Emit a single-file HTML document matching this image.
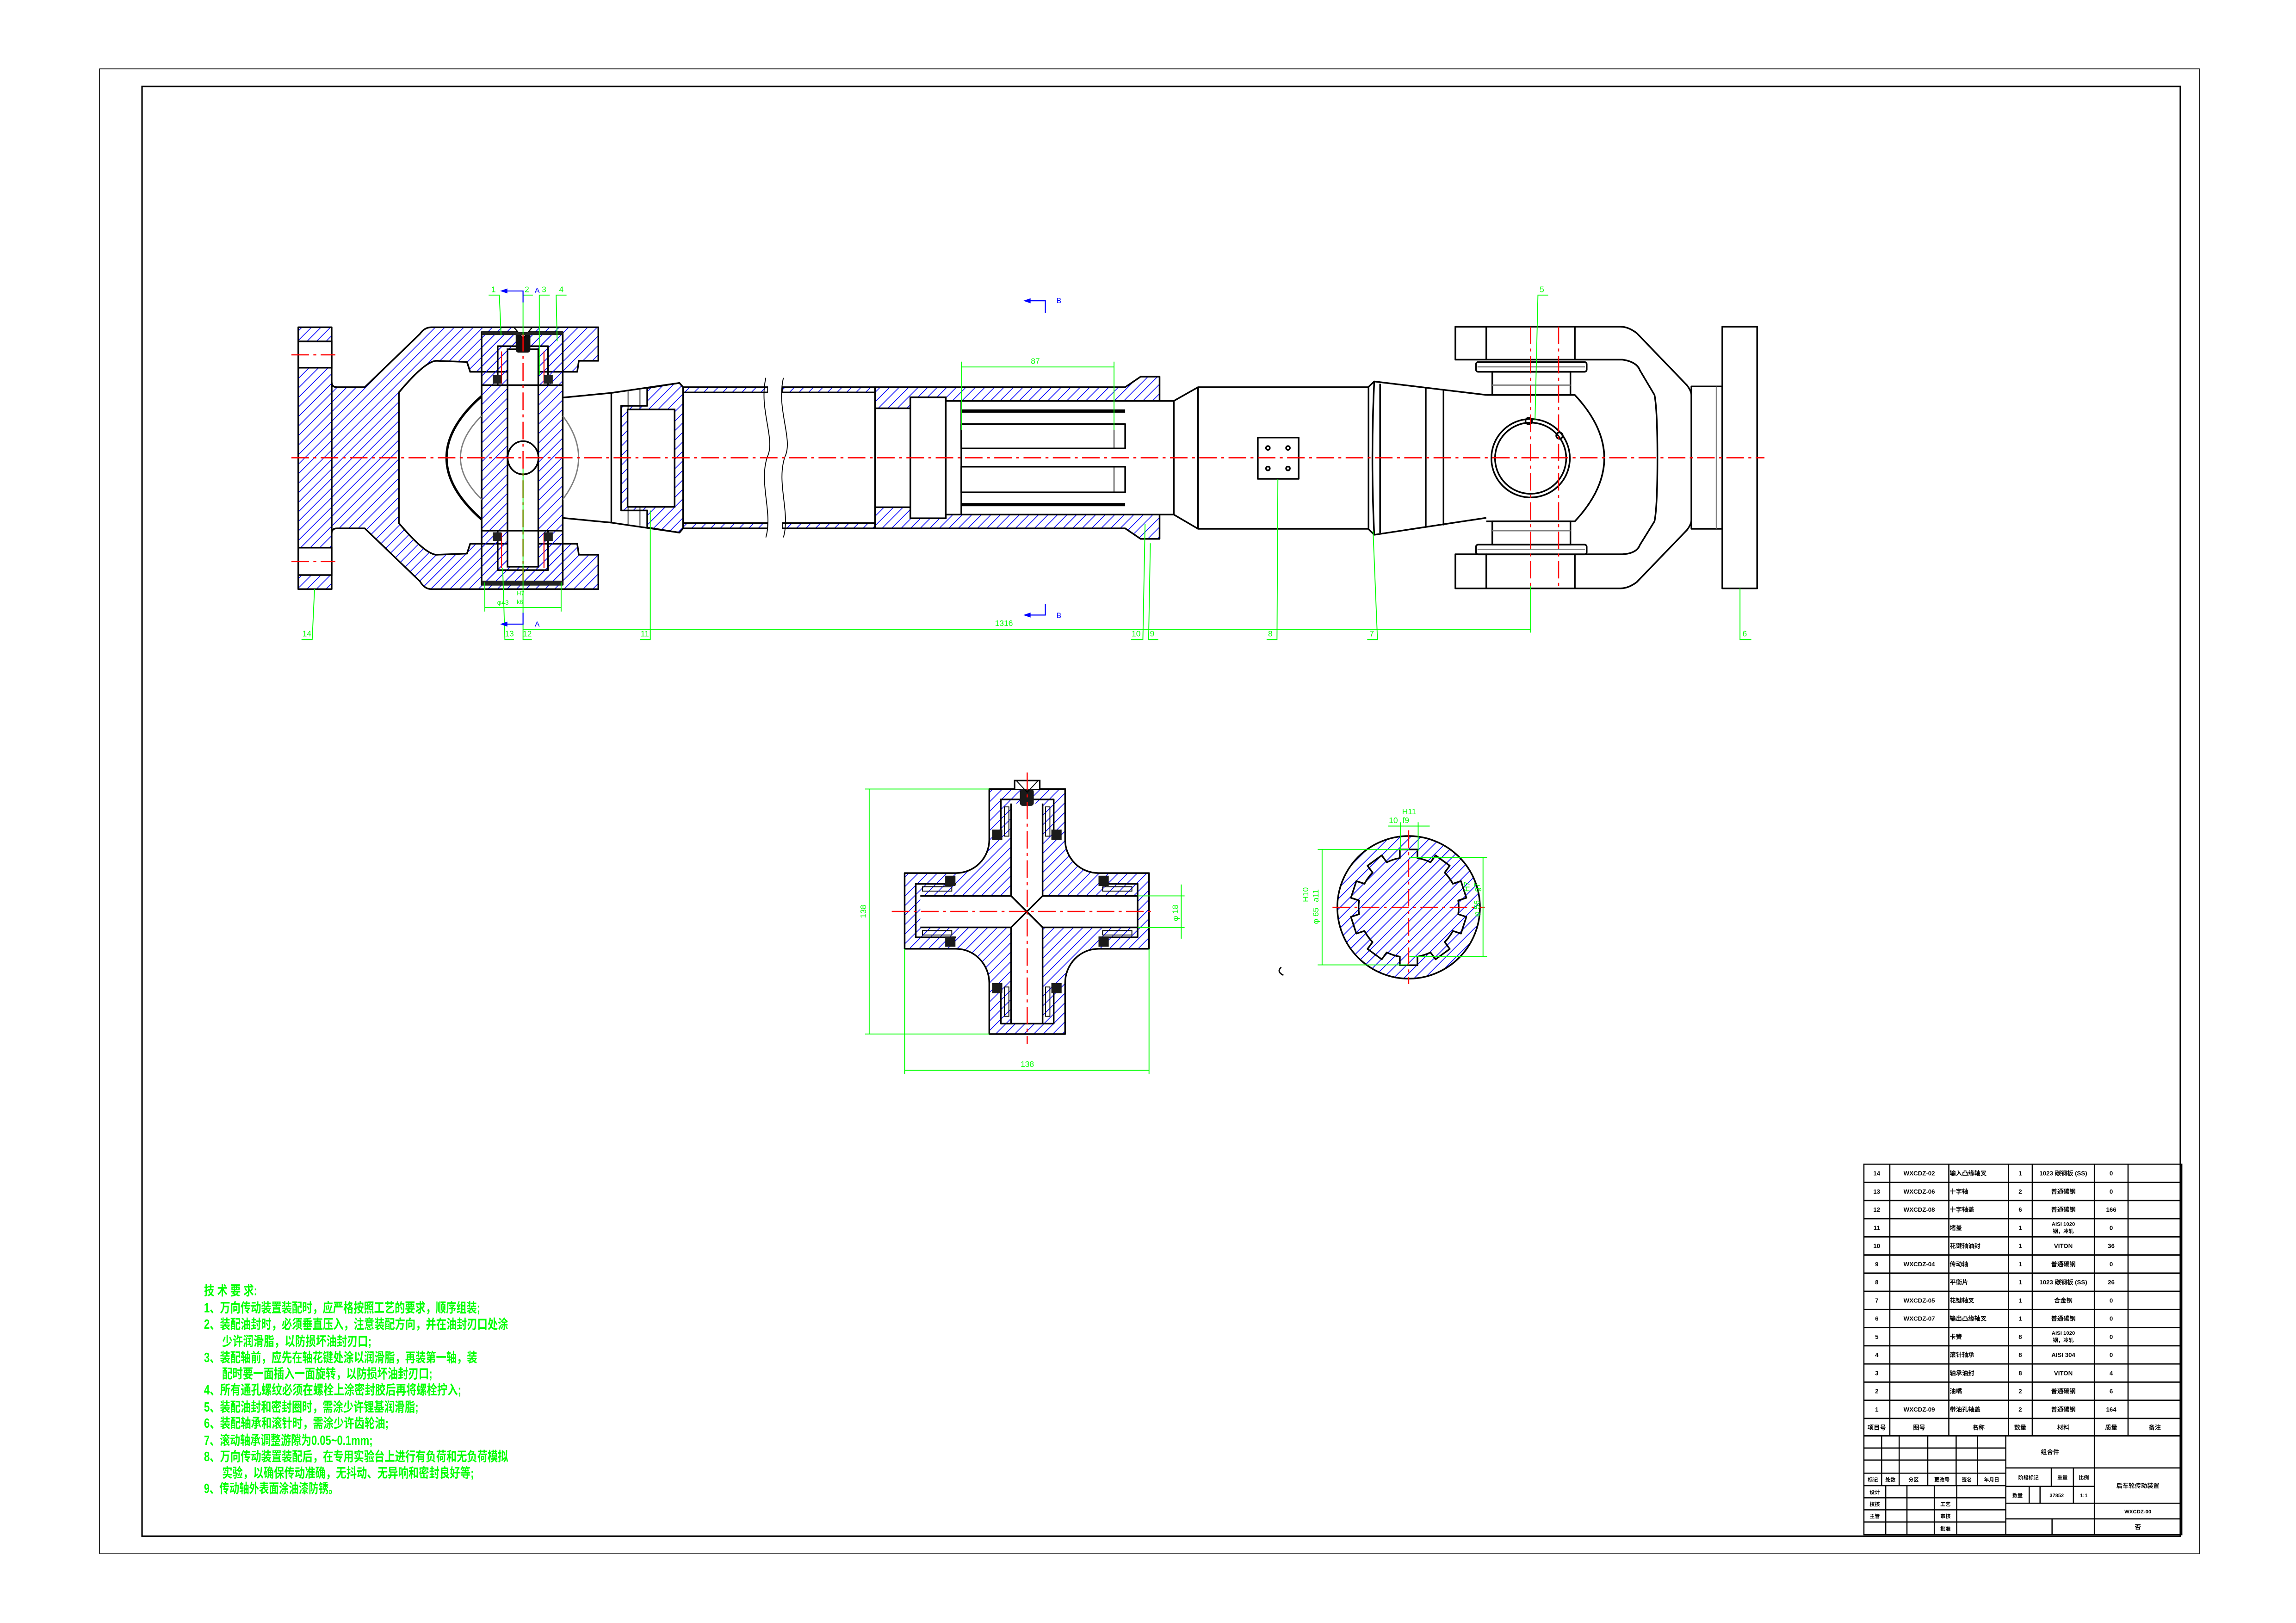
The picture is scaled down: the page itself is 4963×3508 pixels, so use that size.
<!DOCTYPE html>
<html><head><meta charset="utf-8">
<style>
html,body{margin:0;padding:0;background:#fff;}
svg{display:block;}
text{font-family:"Liberation Sans","Noto Sans CJK SC",sans-serif;}
.k{fill:none;stroke:#000;stroke-width:1.1;stroke-linejoin:round}
.kt{fill:none;stroke:#000;stroke-width:0.6}
.h{fill:url(#hatch);stroke:#000;stroke-width:1.1;stroke-linejoin:round}
.w{fill:#fff;stroke:#000;stroke-width:1.1}
.r{stroke:#f00;stroke-width:0.8;stroke-dasharray:12 3 2 3;fill:none}
.g{stroke:#0f0;stroke-width:0.6;fill:none}
.gy{stroke:#808080;stroke-width:0.9;fill:none}
.b{stroke:#00f;stroke-width:0.7;fill:none}
.gt{fill:#0f0;font-size:5.5px}
.bt{fill:#00f;font-size:5px}
.tb{stroke:#000;stroke-width:0.8;fill:none}
.tt{font-size:4.2px;font-weight:bold;fill:#000;text-anchor:middle}
.tl{font-size:4.2px;font-weight:bold;fill:#000}
.note{fill:#0f0;font-size:9px;font-weight:bold}
</style></head>
<body>
<svg width="4963" height="3508" viewBox="0 0 1568 1108.3" preserveAspectRatio="none" xmlns="http://www.w3.org/2000/svg">
<defs>
<pattern id="hatch" width="4.6" height="4.6" patternUnits="userSpaceOnUse" patternTransform="rotate(45)">
<line x1="0" y1="0" x2="0" y2="4.6" stroke="#00f" stroke-width="1.0"/>
</pattern>
<pattern id="hatch2" width="5" height="5" patternUnits="userSpaceOnUse" patternTransform="rotate(45)">
<line x1="0" y1="0" x2="0" y2="5" stroke="#00f" stroke-width="1.05"/>
</pattern>
</defs>
<rect width="1568" height="1108.3" fill="#fff"/>
<!-- borders -->
<rect x="68" y="47" width="1434" height="1014" fill="none" stroke="#000" stroke-width="0.5"/>
<rect x="97" y="59" width="1392" height="990" fill="none" stroke="#000" stroke-width="1"/>

<!-- ============ LEFT YOKE ============ -->
<rect x="203.7" y="223.5" width="22.8" height="178.8" class="h"/>
<rect x="203.7" y="233.1" width="22.8" height="18" class="w"/>
<rect x="203.7" y="374" width="22.8" height="18.7" class="w"/>
<path class="h" d="M226.5,261 Q226.5,264.4 230.2,264.4 L249.1,264.4 L286.8,228 Q290,223.5 294.5,223.5 L408.6,223.5 L408.6,246.4 L395.3,246.4 L394.2,253.9 L321.1,253.9 L318.9,247.2 L297.8,246.4 Q290,247 272.4,268 L272.4,357.2 Q290,378 297.8,378.8 L318.9,378 L321.1,371.3 L394.2,371.3 L395.3,378.8 L408.6,378.8 L408.6,402.3 L294.5,402.3 Q290,402.3 286.8,397 L249.1,360.8 L230.2,360.8 Q226.5,360.8 226.5,364.2 Z"/>
<path d="M272.4,268 Q290,247 297.8,246.4 L318.9,247.2 L321.1,253.9 L328.9,253.9 L328.9,371.3 L321.1,371.3 L318.9,378 L297.8,378.8 Q290,378 272.4,357.2 Z" fill="#fff" stroke="#000" stroke-width="1.1"/>
<rect x="328.9" y="226.8" width="55.4" height="172.5" class="h"/>
<path class="k" d="M339.9,263 L339.9,236.4 L374.3,236.4 L374.3,263 M339.9,362.4 L339.9,389.3 L374.3,389.3 L374.3,362.4"/>
<rect x="346.6" y="238.5" width="21" height="148.5" fill="#fff" stroke="#000" stroke-width="1.1"/>
<line x1="328.9" y1="263" x2="384.3" y2="263" class="k"/>
<line x1="328.9" y1="362.4" x2="384.3" y2="362.4" class="k"/>
<line x1="342.5" y1="240" x2="342.5" y2="262" stroke="#f00" stroke-width="0.7"/>
<line x1="371.5" y1="240" x2="371.5" y2="262" stroke="#f00" stroke-width="0.7"/>
<line x1="342.5" y1="364" x2="342.5" y2="388" stroke="#f00" stroke-width="0.7"/>
<line x1="371.5" y1="364" x2="371.5" y2="388" stroke="#f00" stroke-width="0.7"/>
<rect x="336.5" y="256" width="6" height="6" fill="#222"/>
<rect x="371.5" y="256" width="6" height="6" fill="#222"/>
<rect x="336.5" y="363.5" width="6" height="6" fill="#222"/>
<rect x="371.5" y="363.5" width="6" height="6" fill="#222"/>
<rect x="352.2" y="226.8" width="10" height="14" rx="2" fill="#111"/>
<path d="M351,223.5 L363.5,223.5 L357.2,231 Z" fill="#fff" stroke="#000" stroke-width="0.8"/>
<rect x="328.9" y="226.8" width="55.4" height="2" fill="#222"/>
<rect x="328.9" y="396.5" width="55.4" height="3" fill="#222"/>
<ellipse cx="357.2" cy="312.6" rx="10.5" ry="11.3" fill="#fff" stroke="#000" stroke-width="1.1"/>
<path d="M328.9,270.5 Q281,312.6 328.9,354.7" fill="none" stroke="#000" stroke-width="1.6"/>
<path d="M328.9,284 Q300,312.6 328.9,341" class="gy"/>
<path d="M384.3,284 Q406,312.6 384.3,341" class="gy"/>
<path class="k" d="M384.3,271.5 L417.5,268.3 L464,261.5 L466.5,264.4 M384.3,353.7 L417.5,356.9 L464,363.7 L466.5,360.8"/>
<line x1="417.5" y1="268.3" x2="417.5" y2="356.9" class="k"/>
<line x1="429" y1="267" x2="429" y2="358" class="gy"/>
<line x1="437" y1="266" x2="437" y2="359" class="gy"/>
<path class="h" d="M442,265 L464,261.5 L466.5,264.4 L466.5,360.8 L464,363.7 L442,360.2 L442,348.6 L424.2,348.6 L424.2,277.1 L442,277.1 Z"/>
<rect x="428.6" y="279.6" width="32.1" height="66.5" fill="#fff" stroke="#000" stroke-width="1.1"/>
<rect x="466.5" y="264.4" width="58" height="3.6" class="h"/>
<rect x="466.5" y="357.2" width="58" height="3.6" class="h"/>
<rect x="534" y="264.4" width="63.6" height="3.6" class="h"/>
<rect x="534" y="357.2" width="63.6" height="3.6" class="h"/>
<rect x="524.5" y="258" width="9.5" height="110" fill="#fff"/>
<path class="kt" d="M523,258 C518,280 530,300 524,312 C518,330 528,350 523,367" stroke-width="0.8"/>
<path class="kt" d="M535,258 C530,280 542,300 536,312 C530,330 540,350 535,367" stroke-width="0.8"/>
<path class="h" d="M597.6,264.4 L768.4,264.4 L779,257.2 L791.9,257.2 L791.9,273.8 L645.9,273.8 L645.9,271.3 L621.7,271.3 L621.7,278.8 L597.6,278.8 Z"/>
<path class="h" d="M597.6,360.8 L768.4,360.8 L779,368 L791.9,368 L791.9,351.4 L645.9,351.4 L645.9,353.9 L621.7,353.9 L621.7,346.4 L597.6,346.4 Z"/>
<line x1="597.6" y1="264.4" x2="597.6" y2="360.8" class="k"/>
<rect x="621.7" y="271.3" width="24.2" height="82.6" class="w"/>
<rect x="645.9" y="273.8" width="155.7" height="77.6" class="w"/>
<line x1="656.5" y1="273.8" x2="656.5" y2="351.4" class="k"/>
<rect x="656.5" y="279.6" width="111.9" height="2.2" fill="#000"/>
<rect x="656.5" y="343.5" width="111.9" height="2.2" fill="#000"/>
<rect x="656.5" y="289.6" width="111.9" height="16.6" class="k"/>
<rect x="656.5" y="318.7" width="111.9" height="17.5" class="k"/>
<line x1="760.8" y1="289.6" x2="760.8" y2="306.2" class="kt"/>
<line x1="760.8" y1="318.7" x2="760.8" y2="336.2" class="kt"/>
<path class="k" d="M801.6,273.8 L818.2,264.4 L934.6,264.4 L934.6,361.1 L818.2,361.1 L801.6,351.4 Z"/>
<line x1="818.2" y1="264.4" x2="818.2" y2="361.1" class="k"/>
<rect x="859" y="298.8" width="27.9" height="28.2" class="k"/>
<circle cx="865.9" cy="305.9" r="1.3" class="k"/>
<circle cx="879.6" cy="305.9" r="1.3" class="k"/>
<circle cx="865.9" cy="319.9" r="1.3" class="k"/>
<circle cx="879.6" cy="319.9" r="1.3" class="k"/>
<path class="k" d="M934.4,264.4 L938.5,260.5 L1015,269.7 M934.4,361.1 L938.5,365.2 L1015,353.6"/>
<path class="k" d="M938.5,260.5 Q936,312.6 938.5,365.2 M942.5,262 L942.5,364"/>
<line x1="973.7" y1="265" x2="973.7" y2="360" class="k"/>
<line x1="985.8" y1="266.3" x2="985.8" y2="358.8" class="k"/>
<path class="k" d="M993.9,223.1 L1106.7,223.1 Q1112,223.1 1117.8,227.5 L1152,263 Q1155.1,267 1155.1,270 L1155.1,355 Q1155.1,358 1152,362 L1117.8,397.5 Q1112,401.8 1106.7,401.8 L993.9,401.8"/>
<path class="k" d="M1075.5,245.6 L1108,245.6 Q1117.8,247 1120,253 L1129.9,269.7 Q1131.9,280 1131.9,312.9 Q1131.9,346 1129.9,356 L1120,372 Q1117.8,378 1108,378.5 L1075.5,378.5"/>
<rect x="993.9" y="223.1" width="21.1" height="22.5" class="k"/>
<rect x="993.9" y="378.5" width="21.1" height="23.3" class="k"/>
<line x1="1015" y1="245.6" x2="1075.5" y2="245.6" class="k"/>
<line x1="1015" y1="378.5" x2="1075.5" y2="378.5" class="k"/>
<line x1="1075.5" y1="223.1" x2="1075.5" y2="245.6" class="k"/>
<line x1="1075.5" y1="378.5" x2="1075.5" y2="401.8" class="k"/>
<rect x="1008" y="247.2" width="75.6" height="6.7" rx="1.5" class="k"/>
<line x1="1009" y1="250.5" x2="1082.6" y2="250.5" class="gy"/>
<rect x="1008" y="371.9" width="75.6" height="6.7" rx="1.5" class="k"/>
<line x1="1009" y1="375.2" x2="1082.6" y2="375.2" class="gy"/>
<rect x="1019.1" y="253.9" width="53.4" height="15.8" class="k"/>
<line x1="1019.1" y1="263" x2="1072.5" y2="263" class="gy"/>
<rect x="1019.1" y="356" width="53.4" height="15.9" class="k"/>
<line x1="1019.1" y1="362.4" x2="1072.5" y2="362.4" class="gy"/>
<path class="k" d="M1015,269.7 L1075.5,269.7 Q1115.7,312.9 1075.5,356 L1015,356"/>
<circle cx="1045.3" cy="312.9" r="26.8" class="k"/>
<circle cx="1045.3" cy="312.9" r="24.3" class="k" stroke-width="0.8"/>
<circle cx="1044" cy="287.5" r="2.2" class="k" stroke-width="0.7"/>
<circle cx="1065" cy="297.5" r="2.2" class="k" stroke-width="0.7"/>
<rect x="1155.1" y="263.9" width="21.1" height="97.2" class="k"/>
<line x1="1172.2" y1="264" x2="1172.2" y2="361" class="gy"/>
<rect x="1176.2" y="223.1" width="23.8" height="178.7" class="k"/>
<line x1="199" y1="312.6" x2="1205" y2="312.6" class="r"/>
<line x1="199" y1="242.3" x2="229" y2="242.3" class="r"/>
<line x1="199" y1="383.5" x2="229" y2="383.5" class="r"/>
<line x1="357.2" y1="228" x2="357.2" y2="397" class="r"/>
<line x1="1045.3" y1="223" x2="1045.3" y2="402" class="r"/>
<line x1="1064.4" y1="223" x2="1064.4" y2="402" class="r"/>

<g class="g">
<path d="M214.8,402.3 L213.2,436.7 L205.9,436.7"/>
<path d="M343.3,387.7 L344.8,436.7 L351,436.7"/>
<path d="M357.2,320 L357.2,436.7 L363.2,436.7"/>
<path d="M444.1,348.6 L444.1,436.7 L437,436.7"/>
<path d="M782,357.8 L780.5,436.7 L772.3,436.7"/>
<path d="M785.6,371 L784.4,436.7 L791,436.7"/>
<path d="M872.7,327 L872.1,436.7 L865,436.7"/>
<path d="M937.7,362.7 L940.7,436.7 L933.7,436.7"/>
<path d="M1188.3,401.8 L1188.3,436.7 L1196,436.7"/>
<path d="M1048.3,287.1 L1050.3,201.5 L1057.3,201.5"/>
<line x1="1045.3" y1="400" x2="1045.3" y2="432"/>
<line x1="357.2" y1="430" x2="1045.3" y2="430"/>
<path d="M342.2,229 L341,201.5 L333.7,201.5"/>
<path d="M357.2,229 L357.2,201.5 L363.9,201.5"/>
<path d="M368.3,256 L368.3,201.5 L375.4,201.5"/>
<path d="M380.5,233 L379.8,201.5 L386.9,201.5"/>
<line x1="656.5" y1="247" x2="656.5" y2="293.8"/>
<line x1="760.8" y1="247" x2="760.8" y2="293.8"/>
<line x1="656.5" y1="250.6" x2="760.8" y2="250.6"/>
<line x1="331.1" y1="397.7" x2="331.1" y2="417.6"/>
<line x1="383.2" y1="397.7" x2="383.2" y2="417.6"/>
<line x1="331.1" y1="414.8" x2="383.2" y2="414.8"/>
</g>
<g class="gt">
<text x="206.5" y="434.5">14</text>
<text x="344.8" y="434.5">13</text>
<text x="357" y="434.5">12</text>
<text x="437.5" y="434.5">11</text>
<text x="679.5" y="427.5">1316</text>
<text x="772.8" y="434.5">10</text>
<text x="785.3" y="434.5">9</text>
<text x="866" y="434.5">8</text>
<text x="935.3" y="434.5">7</text>
<text x="1190" y="434.5">6</text>
<text x="1051.5" y="199.5">5</text>
<text x="335.5" y="199.5">1</text>
<text x="358.3" y="199.5">2</text>
<text x="370" y="199.5">3</text>
<text x="381.8" y="199.5">4</text>
<text x="704" y="248.5">87</text>
<text x="339.5" y="413" font-size="4.5">φ43</text>
<text x="353" y="406.5" font-size="4">H7</text>
<text x="353" y="412.5" font-size="4">k6</text>
</g>
<g class="b">
<path d="M345,198.7 L357.2,198.7 L357.2,206.5"/>
<path d="M345,426.2 L357.2,426.2 L357.2,418.4"/>
<path d="M701.5,205.4 L713.9,205.4 L713.9,213.7"/>
<path d="M701.5,420 L713.9,420 L713.9,412.3"/>
</g>
<g fill="#00f">
<path d="M341.5,198.7 L346.5,197 L346.5,200.4 Z"/>
<path d="M341.5,426.2 L346.5,424.5 L346.5,427.9 Z"/>
<path d="M698.8,205.4 L703.8,203.7 L703.8,207.1 Z"/>
<path d="M698.8,420 L703.8,418.3 L703.8,421.7 Z"/>
</g>
<g class="bt">
<text x="365.2" y="200">A</text>
<text x="365.2" y="428">A</text>
<text x="721.5" y="207">B</text>
<text x="721.5" y="422">B</text>
</g>

<!-- ============ CROSS VIEW ============ -->
<path class="h" d="M675.6,538.8 L727.4,538.8 L727.4,573.5 A22.8,22.7 0 0 0 750.2,596.2 L784.7,596.2 L784.7,647.9 L750.2,647.9 A22.8,23.4 0 0 0 727.4,671.3 L727.4,706.1 L675.6,706.1 L675.6,671.3 A22.8,23.4 0 0 0 652.8,647.9 L617.8,647.9 L617.8,596.2 L652.8,596.2 A22.8,22.7 0 0 0 675.6,573.5 Z"/>
<rect x="690.5" y="548.7" width="21.5" height="150.3" fill="#fff"/>
<rect x="628.5" y="611.8" width="148.4" height="21.5" fill="#fff"/>
<path class="k" d="M690.5,548.7 L690.5,611.8 L628.5,611.8 M712,548.7 L712,611.8 L776.9,611.8 M690.5,699 L690.5,633.3 L628.5,633.3 M712,699 L712,633.3 L776.9,633.3 M690.5,611.8 L712,633.3 M712,611.8 L690.5,633.3"/>
<path class="k" d="M683.5,573.5 L683.5,545.9 L719.6,545.9 L719.6,573.5 M683.5,671.3 L683.5,699 L719.6,699 L719.6,671.3 M652.8,603.5 L625.4,603.5 L625.4,640.1 L652.8,640.1 M750.2,603.5 L776.9,603.5 L776.9,640.1 L750.2,640.1"/>
<path class="kt" d="M686,551 L689,551 L689,571 L686,571 Z M714,551 L717,551 L717,571 L714,571 Z M686,674 L689,674 L689,694 L686,694 Z M714,674 L717,674 L717,694 L714,694 Z M630,605.5 L650,605.5 L650,608.5 L630,608.5 Z M630,635.5 L650,635.5 L650,638.5 L630,638.5 Z M753,605.5 L773,605.5 L773,608.5 L753,608.5 Z M753,635.5 L773,635.5 L773,638.5 L753,638.5 Z" stroke-width="0.8"/>
<g fill="#1a1a1a">
<rect x="677.5" y="566.5" width="7" height="7"/><rect x="718" y="566.5" width="7" height="7"/>
<rect x="677.5" y="671.3" width="7" height="7"/><rect x="718" y="671.3" width="7" height="7"/>
<rect x="645.5" y="598" width="7" height="7"/><rect x="645.5" y="639.5" width="7" height="7"/>
<rect x="750.2" y="598" width="7" height="7"/><rect x="750.2" y="639.5" width="7" height="7"/>
<rect x="696.5" y="538.8" width="9.5" height="11.5" rx="2"/>
</g>
<path d="M692.9,538.8 L692.9,533 L710.1,533 L710.1,538.8" fill="#fff" stroke="#000" stroke-width="1"/>
<path d="M694,533 L701.5,541 L709,533" class="kt"/>
<line x1="701.5" y1="527.5" x2="701.5" y2="713" class="r"/>
<line x1="609" y1="622.4" x2="789" y2="622.4" class="r"/>
<g class="g">
<line x1="590.8" y1="538.8" x2="675.6" y2="538.8"/>
<line x1="590.8" y1="706.1" x2="675.6" y2="706.1"/>
<line x1="593.6" y1="538.8" x2="593.6" y2="706.1"/>
<line x1="617.8" y1="647.9" x2="617.8" y2="733.5"/>
<line x1="784.7" y1="647.9" x2="784.7" y2="733.5"/>
<line x1="617.8" y1="730.9" x2="784.7" y2="730.9"/>
<line x1="776.9" y1="611.8" x2="809" y2="611.8"/>
<line x1="776.9" y1="633.3" x2="809" y2="633.3"/>
<line x1="806.7" y1="604" x2="806.7" y2="641"/>
</g>
<text class="gt" transform="translate(591.5,627) rotate(-90)">138</text>
<text class="gt" x="697" y="728.5">138</text>
<text class="gt" transform="translate(804.5,629) rotate(-90)">φ 18</text>

<!-- ============ SPLINE SECTION ============ -->
<circle cx="962" cy="619.6" r="48.7" fill="url(#hatch2)" stroke="#000" stroke-width="1.1"/>
<path class="k" d="M956,585.93 L956,580.1 L968,580.1 L968,585.93 A34.2,34.2 0 0 1 976.94,588.83 L980.37,584.11 L990.07,591.17 L986.64,595.89 A34.2,34.2 0 0 1 992.17,603.49 L997.72,601.68 L1001.42,613.1 L995.87,614.91 A34.2,34.2 0 0 1 995.87,624.29 L1001.42,626.1 L997.72,637.52 L992.17,635.71 A34.2,34.2 0 0 1 986.64,643.31 L990.07,648.03 L980.37,655.09 L976.94,650.37 A34.2,34.2 0 0 1 968,653.27 L968,659.1 L956,659.1 L956,653.27 A34.2,34.2 0 0 1 947.06,650.37 L943.63,655.09 L933.93,648.03 L937.36,643.31 A34.2,34.2 0 0 1 931.83,635.71 L926.28,637.52 L922.58,626.1 L928.13,624.29 A34.2,34.2 0 0 1 928.13,614.91 L922.58,613.1 L926.28,601.68 L931.83,603.49 A34.2,34.2 0 0 1 937.36,595.89 L933.93,591.17 L943.63,584.11 L947.06,588.83 A34.2,34.2 0 0 1 956,585.93 Z"/>
<line x1="962" y1="567" x2="962" y2="672" class="r"/>
<line x1="910" y1="619.6" x2="1014" y2="619.6" class="r"/>
<g class="g">
<line x1="899.9" y1="580" x2="962.5" y2="580"/>
<line x1="899.9" y1="658.9" x2="962.5" y2="658.9"/>
<line x1="902.9" y1="580" x2="902.9" y2="658.9"/>
<line x1="962.5" y1="585.5" x2="1015.6" y2="585.5"/>
<line x1="962.5" y1="653.3" x2="1015.6" y2="653.3"/>
<line x1="1012.8" y1="585.5" x2="1012.8" y2="653.3"/>
<line x1="948" y1="564.1" x2="976.4" y2="564.1"/>
<line x1="956.5" y1="561.5" x2="956.5" y2="581"/>
<line x1="968.5" y1="561.5" x2="968.5" y2="581"/>
</g>
<g class="gt" font-size="5">
<text x="948.5" y="562">10</text>
<text x="957.5" y="556">H11</text>
<text x="957.8" y="562">f9</text>
<text transform="translate(900.5,631) rotate(-90)">φ 65</text>
<text transform="translate(893.5,616) rotate(-90)">H10</text>
<text transform="translate(900.5,616) rotate(-90)">a11</text>
<text transform="translate(1010.5,626) rotate(-90)">φ 56</text>
<text transform="translate(1003.5,609) rotate(-90)">H7</text>
<text transform="translate(1010.5,609) rotate(-90)">g7</text>
</g>
<path d="M875,660.5 Q871.5,663.5 876.5,666" fill="none" stroke="#000" stroke-width="0.9"/>

<!-- ============ TECH NOTES ============ -->
<g class="note">
<text x="139.3" y="884.5" textLength="36.4" lengthAdjust="spacingAndGlyphs">技 术 要 求:</text>
<text x="139.3" y="896.2" textLength="188.7" lengthAdjust="spacingAndGlyphs">1、万向传动装置装配时，应严格按照工艺的要求，顺序组装;</text>
<text x="139.3" y="907.3" textLength="207.7" lengthAdjust="spacingAndGlyphs">2、装配油封时，必须垂直压入，注意装配方向，并在油封刃口处涂</text>
<text x="151.7" y="919" textLength="102" lengthAdjust="spacingAndGlyphs">少许润滑脂，以防损坏油封刃口;</text>
<text x="139.3" y="930.1" textLength="186.6" lengthAdjust="spacingAndGlyphs">3、装配轴前，应先在轴花键处涂以润滑脂，再装第一轴，装</text>
<text x="151.7" y="941.2" textLength="143.6" lengthAdjust="spacingAndGlyphs">配时要一面插入一面旋转，以防损坏油封刃口;</text>
<text x="139.3" y="952.3" textLength="175.7" lengthAdjust="spacingAndGlyphs">4、所有通孔螺纹必须在螺栓上涂密封胶后再将螺栓拧入;</text>
<text x="139.3" y="963.9" textLength="146.5" lengthAdjust="spacingAndGlyphs">5、装配油封和密封圈时，需涂少许锂基润滑脂;</text>
<text x="139.3" y="975" textLength="126.1" lengthAdjust="spacingAndGlyphs">6、装配轴承和滚针时，需涂少许齿轮油;</text>
<text x="139.3" y="986.7" textLength="115.2" lengthAdjust="spacingAndGlyphs">7、滚动轴承调整游隙为0.05~0.1mm;</text>
<text x="139.3" y="997.8" textLength="207.7" lengthAdjust="spacingAndGlyphs">8、万向传动装置装配后，在专用实验台上进行有负荷和无负荷模拟</text>
<text x="151.7" y="1008.9" textLength="172" lengthAdjust="spacingAndGlyphs">实验，以确保传动准确，无抖动、无异响和密封良好等;</text>
<text x="139.3" y="1019.5" textLength="91.8" lengthAdjust="spacingAndGlyphs">9、传动轴外表面涂油漆防锈。</text>
</g>

<!-- ============ PARTS LIST ============ -->
<g class="tb">
<rect x="1272.9" y="795" width="217.1" height="253"/>
<path d="M1272.9,807.4H1490M1272.9,819.8H1490M1272.9,832.2H1490M1272.9,844.6H1490M1272.9,857H1490M1272.9,869.4H1490M1272.9,881.8H1490M1272.9,894.2H1490M1272.9,906.6H1490M1272.9,919H1490M1272.9,931.4H1490M1272.9,943.8H1490M1272.9,956.2H1490M1272.9,968.6H1490M1272.9,980.5H1490" stroke-width="0.9"/>
<path d="M1290.6,795V980.5M1330.9,795V980.5M1371.6,795V980.5M1387.9,795V980.5M1430.3,795V980.5M1453.3,795V980.5"/>
<path d="M1272.9,988.8H1369.8M1272.9,997H1369.8M1272.9,1006H1369.8M1272.9,1014.5H1369.8M1272.9,1022.8H1369.8M1272.9,1031H1369.8M1272.9,1039.3H1369.8"/>
<path d="M1285,980.5V1014.5M1297,980.5V1014.5M1316.5,980.5V1014.5M1335.9,980.5V1014.5M1350.4,980.5V1014.5"/>
<path d="M1287.8,1014.5V1048M1302.3,1014.5V1048M1321,1014.5V1048M1336.3,1014.5V1048"/>
<path d="M1369.8,980.5V1048M1430.3,980.5V1048"/>
<path d="M1369.8,1002.4H1490M1369.8,1015H1430.3M1369.8,1026.5H1490M1369.8,1037.2H1490"/>
<path d="M1400.9,1002.4V1015M1416,1002.4V1026.5M1385.8,1015V1026.5M1393.2,1015V1026.5M1401.4,1037.2V1048"/>
</g>
<g class="tt">
<text x="1281.7" y="802.7">14</text><text x="1310.7" y="802.7">WXCDZ-02</text><text x="1379.7" y="802.7">1</text><text x="1409.1" y="802.7">1023 碳钢板 (SS)</text><text x="1441.8" y="802.7">0</text>
<text x="1281.7" y="815.1">13</text><text x="1310.7" y="815.1">WXCDZ-06</text><text x="1379.7" y="815.1">2</text><text x="1409.1" y="815.1">普通碳钢</text><text x="1441.8" y="815.1">0</text>
<text x="1281.7" y="827.5">12</text><text x="1310.7" y="827.5">WXCDZ-08</text><text x="1379.7" y="827.5">6</text><text x="1409.1" y="827.5">普通碳钢</text><text x="1441.8" y="827.5">166</text>
<text x="1281.7" y="839.9">11</text><text x="1379.7" y="839.9">1</text><text x="1409.1" y="837" font-size="3.6">AISI 1020</text><text x="1409.1" y="842" font-size="3.6">钢，冷轧</text><text x="1441.8" y="839.9">0</text>
<text x="1281.7" y="852.3">10</text><text x="1379.7" y="852.3">1</text><text x="1409.1" y="852.3">VITON</text><text x="1441.8" y="852.3">36</text>
<text x="1281.7" y="864.7">9</text><text x="1310.7" y="864.7">WXCDZ-04</text><text x="1379.7" y="864.7">1</text><text x="1409.1" y="864.7">普通碳钢</text><text x="1441.8" y="864.7">0</text>
<text x="1281.7" y="877.1">8</text><text x="1379.7" y="877.1">1</text><text x="1409.1" y="877.1">1023 碳钢板 (SS)</text><text x="1441.8" y="877.1">26</text>
<text x="1281.7" y="889.5">7</text><text x="1310.7" y="889.5">WXCDZ-05</text><text x="1379.7" y="889.5">1</text><text x="1409.1" y="889.5">合金钢</text><text x="1441.8" y="889.5">0</text>
<text x="1281.7" y="901.9">6</text><text x="1310.7" y="901.9">WXCDZ-07</text><text x="1379.7" y="901.9">1</text><text x="1409.1" y="901.9">普通碳钢</text><text x="1441.8" y="901.9">0</text>
<text x="1281.7" y="914.3">5</text><text x="1379.7" y="914.3">8</text><text x="1409.1" y="911.4" font-size="3.6">AISI 1020</text><text x="1409.1" y="916.4" font-size="3.6">钢，冷轧</text><text x="1441.8" y="914.3">0</text>
<text x="1281.7" y="926.7">4</text><text x="1379.7" y="926.7">8</text><text x="1409.1" y="926.7">AISI 304</text><text x="1441.8" y="926.7">0</text>
<text x="1281.7" y="939.1">3</text><text x="1379.7" y="939.1">8</text><text x="1409.1" y="939.1">VITON</text><text x="1441.8" y="939.1">4</text>
<text x="1281.7" y="951.5">2</text><text x="1379.7" y="951.5">2</text><text x="1409.1" y="951.5">普通碳钢</text><text x="1441.8" y="951.5">6</text>
<text x="1281.7" y="963.9">1</text><text x="1310.7" y="963.9">WXCDZ-09</text><text x="1379.7" y="963.9">2</text><text x="1409.1" y="963.9">普通碳钢</text><text x="1441.8" y="963.9">164</text>
<text x="1281.7" y="976.3">项目号</text><text x="1310.7" y="976.3">图号</text><text x="1351.2" y="976.3">名称</text><text x="1379.7" y="976.3">数量</text><text x="1409.1" y="976.3">材料</text><text x="1441.8" y="976.3">质量</text><text x="1471.6" y="976.3">备注</text>
<text x="1279" y="1011.7" font-size="3.5">标记</text><text x="1291" y="1011.7" font-size="3.5">处数</text><text x="1306.8" y="1011.7" font-size="3.5">分区</text><text x="1326.2" y="1011.7" font-size="3.5">更改号</text><text x="1343.2" y="1011.7" font-size="3.5">签名</text><text x="1360.1" y="1011.7" font-size="3.5">年月日</text>
<text x="1280.3" y="1020.2" font-size="3.5">设计</text><text x="1280.3" y="1028.4" font-size="3.5">校核</text><text x="1280.3" y="1036.6" font-size="3.5">主管</text>
<text x="1328.6" y="1028.4" font-size="3.5">工艺</text><text x="1328.6" y="1036.6" font-size="3.5">审核</text><text x="1328.6" y="1045.1" font-size="3.5">批准</text>
<text x="1400" y="993">组合件</text>
<text x="1385.3" y="1010.2" font-size="3.5">阶段标记</text><text x="1408.5" y="1010.2" font-size="3.5">重量</text><text x="1423.1" y="1010.2" font-size="3.5">比例</text>
<text x="1377.8" y="1022.3" font-size="3.5">数量</text><text x="1404.6" y="1022.3" font-size="3.5">37852</text><text x="1423.1" y="1022.3" font-size="3.5">1:1</text>
<text x="1460" y="1016">后车轮传动装置</text>
<text x="1460" y="1033.4" font-size="3.6">WXCDZ-00</text>
<text x="1460" y="1044.1">否</text>
</g>
<text class="tl" x="1331.5" y="802.7">输入凸缘轴叉</text>
<text class="tl" x="1331.5" y="815.1">十字轴</text>
<text class="tl" x="1331.5" y="827.5">十字轴盖</text>
<text class="tl" x="1331.5" y="839.9">堵盖</text>
<text class="tl" x="1331.5" y="852.3">花键轴油封</text>
<text class="tl" x="1331.5" y="864.7">传动轴</text>
<text class="tl" x="1331.5" y="877.1">平衡片</text>
<text class="tl" x="1331.5" y="889.5">花键轴叉</text>
<text class="tl" x="1331.5" y="901.9">输出凸缘轴叉</text>
<text class="tl" x="1331.5" y="914.3">卡簧</text>
<text class="tl" x="1331.5" y="926.7">滚针轴承</text>
<text class="tl" x="1331.5" y="939.1">轴承油封</text>
<text class="tl" x="1331.5" y="951.5">油嘴</text>
<text class="tl" x="1331.5" y="963.9">带油孔轴盖</text>
</svg>
</body></html>
